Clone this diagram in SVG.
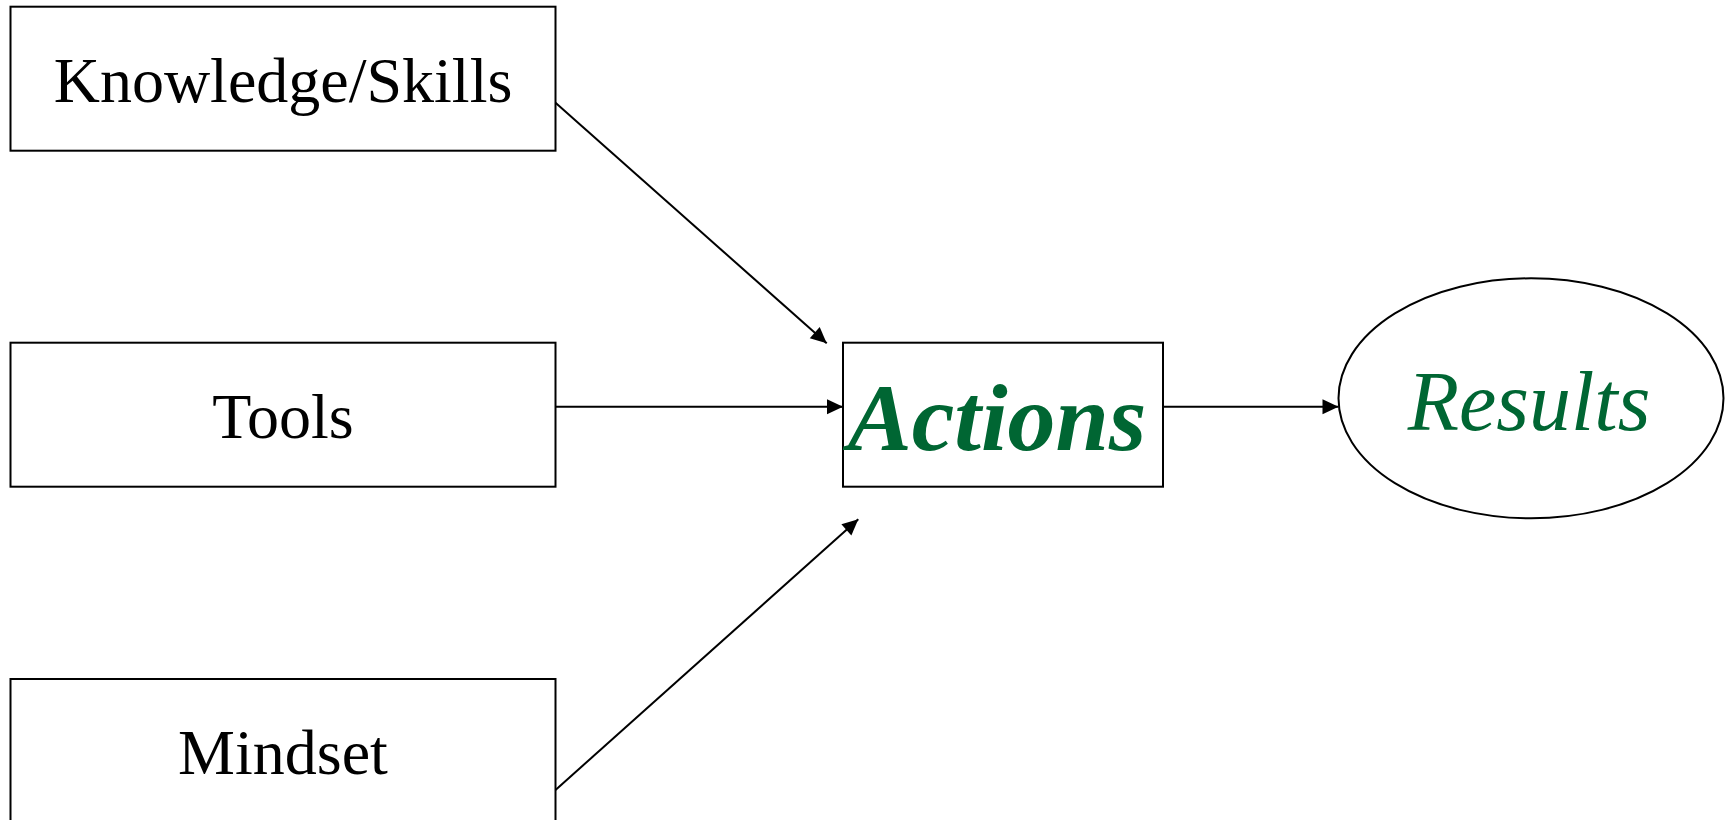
<svg xmlns="http://www.w3.org/2000/svg" width="1726" height="820" viewBox="0 0 1726 820">
  <defs>
    <marker id="arrow" markerUnits="userSpaceOnUse" markerWidth="18" markerHeight="16" viewBox="0 0 16 16" refX="16" refY="8" orient="auto">
      <path d="M0,0.5 L16,8 L0,15.5 Z" fill="#000"/>
    </marker>
    <style>
      .box { fill: #fff; stroke: #000; stroke-width: 2; }
      .label { font-family: "Liberation Serif", "Times New Roman", serif; font-size: 64px; fill: #000; text-anchor: middle; }
      .green { fill: #006633; font-family: "Liberation Serif", "Times New Roman", serif; font-style: italic; text-anchor: middle; }
      .edge { stroke: #000; stroke-width: 2; fill: none; marker-end: url(#arrow); }
    </style>
  </defs>
  <rect width="1726" height="820" fill="#fff"/>

  <g id="knowledge">
    <rect class="box" x="10.5" y="6.7" width="545" height="144"/>
    <text class="label" x="283" y="101.7">Knowledge/Skills</text>
  </g>

  <g id="tools">
    <rect class="box" x="10.5" y="342.7" width="545" height="144"/>
    <text class="label" x="283" y="438">Tools</text>
  </g>

  <g id="mindset">
    <rect class="box" x="10.5" y="679" width="545" height="144"/>
    <text class="label" x="283" y="774">Mindset</text>
  </g>

  <g id="actions">
    <rect class="box" x="843" y="342.7" width="320" height="144"/>
    <text class="green" x="997" y="450" font-size="96" font-weight="bold">Actions</text>
  </g>

  <g id="results">
    <ellipse class="box" cx="1531" cy="398.3" rx="192.5" ry="120"/>
    <text class="green" x="1529" y="430" font-size="84">Results</text>
  </g>

  <g id="connectors">
    <line class="edge" x1="555.5" y1="102.7" x2="826.7" y2="343.3"/>
    <line class="edge" x1="555.5" y1="406.7" x2="843" y2="406.7"/>
    <line class="edge" x1="555.5" y1="790" x2="858.3" y2="519.3"/>
    <line class="edge" x1="1163" y1="406.7" x2="1338.5" y2="406.7"/>
  </g>
</svg>
